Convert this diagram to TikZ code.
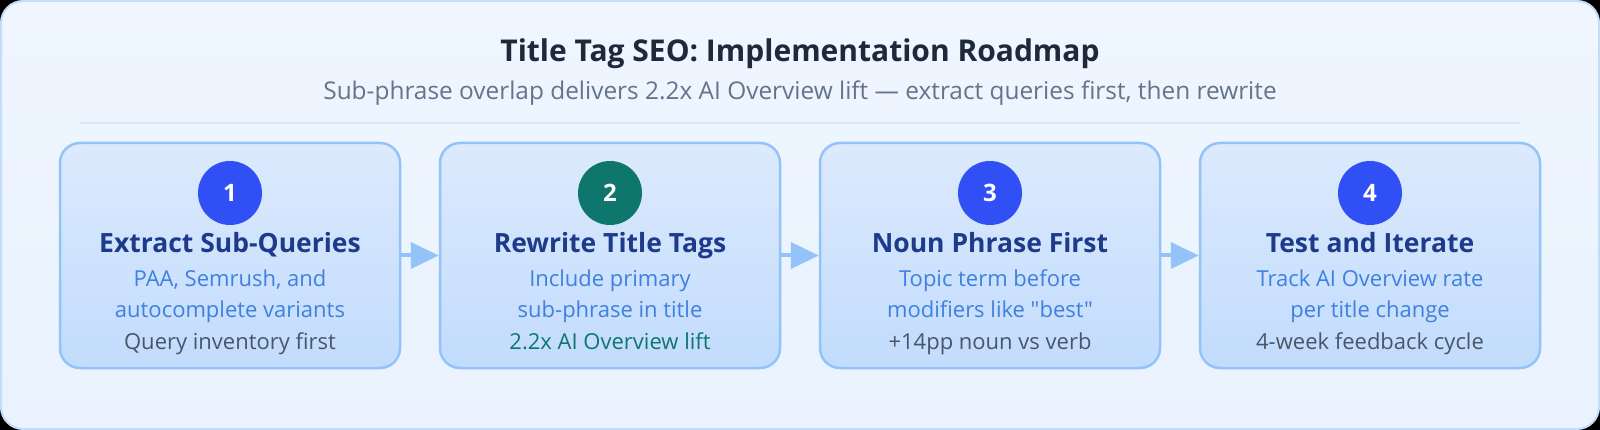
\documentclass[tikz,border=0pt]{standalone}
\usepackage{fontspec}
\setmainfont{Open Sans}[Ligatures=TeXOff]
\usetikzlibrary{arrows.meta}
\definecolor{outerfill}{HTML}{EFF6FF}
\definecolor{outerfillb}{HTML}{E9F2FE}
\definecolor{outerline}{HTML}{C3DCFB}
\definecolor{boxtop}{HTML}{DCEAFD}
\definecolor{boxbot}{HTML}{C2DCFD}
\definecolor{boxline}{HTML}{93C3F8}
\definecolor{arrowc}{HTML}{93C3F8}
\definecolor{sepc}{HTML}{DCE5F0}
\definecolor{titlec}{HTML}{1E293B}
\definecolor{subc}{HTML}{64748B}
\definecolor{boxtitle}{HTML}{1E3A8A}
\definecolor{descc}{HTML}{3F80E0}
\definecolor{footc}{HTML}{4B5568}
\definecolor{tealc}{HTML}{0F766E}
\definecolor{numblue}{HTML}{3050F5}
\begin{document}
\begin{tikzpicture}[x=1pt,y=-1pt,
  outer/.style={rounded corners=22pt, top color=outerfill, bottom color=outerfillb, draw=outerline, line width=2pt},
  stepbox/.style={rounded corners=20pt, top color=boxtop, bottom color=boxbot, draw=boxline, line width=2.5pt, minimum width=340pt, minimum height=225pt, inner sep=0pt},
  num/.style={circle, minimum size=64pt, inner sep=0pt, text=white, font=\fontsize{24}{26}\selectfont\bfseries},
  ttl/.style={anchor=base, inner sep=0pt, text=boxtitle, font=\fontsize{26.5}{30}\selectfont\bfseries},
  desc/.style={anchor=base, inner sep=0pt, text=descc, font=\fontsize{22}{26}\selectfont},
  foot/.style={anchor=base, inner sep=0pt, text=footc, font=\fontsize{22}{26}\selectfont},
  flow/.style={draw=arrowc, line width=4pt, -{Triangle[length=28pt,width=26pt]}}
]
\useasboundingbox (0,0) rectangle (1600,430);
\fill[black] (0,0) rectangle (1600,430);
\path[outer] (1,1) rectangle (1599,429);

\node[anchor=base, inner sep=0pt, text=titlec, font=\fontsize{30}{32}\selectfont\bfseries] (title) at (800,62) {Title Tag SEO: Implementation Roadmap};
\node[anchor=base, inner sep=0pt, text=subc, font=\fontsize{24.4}{28}\selectfont] (sub) at (800,100) {Sub-phrase overlap delivers 2.2x AI Overview lift — extract queries first, then rewrite};
\coordinate (sepL) at (80,123);
\coordinate (sepR) at (1520,123);
\draw[sepc, line width=1.5pt] (sepL) -- (sepR);

% boxes
\node[stepbox] (b1) at (230,255.5) {};
\node[stepbox] (b2) at (610,255.5) {};
\node[stepbox] (b3) at (990,255.5) {};
\node[stepbox] (b4) at (1370,255.5) {};

\draw[flow] (b1.east) -- (b2.west);
\draw[flow] (b2.east) -- (b3.west);
\draw[flow] (b3.east) -- (b4.west);

% step 1
\node[num, fill=numblue] (c1) at (230,193) {1};
\node[ttl] (t1) at (230,253) {Extract Sub-Queries};
\node[desc] (d1a) at (230,287) {PAA, Semrush, and};
\node[desc] (d1b) at (230,317) {autocomplete variants};
\node[foot] (f1) at (230,349) {Query inventory first};

% step 2
\node[num, fill=tealc] (c2) at (610,193) {2};
\node[ttl] (t2) at (610,253) {Rewrite Title Tags};
\node[desc] (d2a) at (610,287) {Include primary};
\node[desc] (d2b) at (610,317) {sub-phrase in title};
\node[foot, text=tealc] (f2) at (610,349) {2.2x AI Overview lift};

% step 3
\node[num, fill=numblue] (c3) at (990,193) {3};
\node[ttl] (t3) at (990,253) {Noun Phrase First};
\node[desc] (d3a) at (990,287) {Topic term before};
\node[desc] (d3b) at (990,317) {modifiers like "best"};
\node[foot] (f3) at (990,349) {+14pp noun vs verb};

% step 4
\node[num, fill=numblue] (c4) at (1370,193) {4};
\node[ttl] (t4) at (1370,253) {Test and Iterate};
\node[desc] (d4a) at (1370,287) {Track AI Overview rate};
\node[desc] (d4b) at (1370,317) {per title change};
\node[foot] (f4) at (1370,349) {4-week feedback cycle};
\end{tikzpicture}
\end{document}
